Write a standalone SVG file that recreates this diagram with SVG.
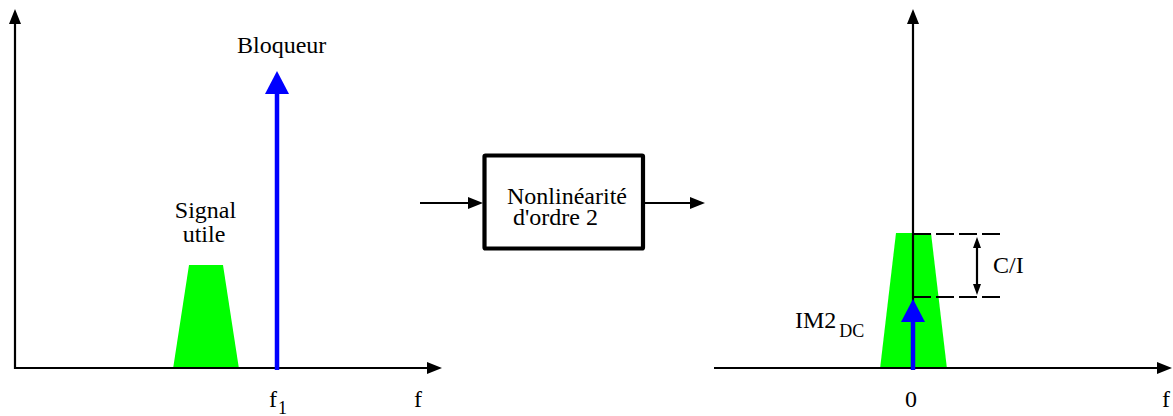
<svg xmlns="http://www.w3.org/2000/svg" width="1173" height="416" viewBox="0 0 1173 416">
<style>
text{font-family:"Liberation Serif","Times New Roman",serif;font-size:24px;fill:#000}
.ax{stroke:#000;stroke-width:2.2;fill:none}
.blue{stroke:#0000ff;stroke-width:4.5;fill:none}
.green{fill:#00ff00;stroke:none}
.dash{stroke:#000;stroke-width:2.2;stroke-dasharray:18 5;fill:none}
.box{fill:#fff;stroke:#000;stroke-width:4.2}
</style>
<defs>
<marker id="ah" markerUnits="userSpaceOnUse" markerWidth="15" markerHeight="12" refX="1" refY="6" orient="auto" overflow="visible">
<path d="M0,0 L15,6 L0,12 z" fill="#000"/>
</marker>
<marker id="ahs" markerUnits="userSpaceOnUse" markerWidth="11" markerHeight="8" refX="1" refY="4" orient="auto-start-reverse" overflow="visible">
<path d="M0,0 L11,4 L0,8 z" fill="#000"/>
</marker>
<marker id="bh" markerUnits="userSpaceOnUse" markerWidth="23" markerHeight="24" refX="1" refY="12" orient="auto" overflow="visible">
<path d="M0,0 L23,12 L0,24 z" fill="#0000ff"/>
</marker>
</defs>
<g id="left-plot">
<polygon class="green" points="173,369 189,265 223,265 239,369"/>
<line class="ax" x1="15" y1="369" x2="15" y2="23" marker-end="url(#ah)"/>
<line class="ax" x1="14" y1="368" x2="428" y2="368" marker-end="url(#ah)"/>
<line class="blue" x1="277" y1="370" x2="277" y2="93" marker-end="url(#bh)"/>
<text x="237" y="53">Bloqueur</text>
<text x="205.5" y="218" text-anchor="middle">Signal</text>
<text x="204" y="242" text-anchor="middle">utile</text>
<text x="269" y="407">f<tspan font-size="18" dx="1" dy="7">1</tspan></text>
<text x="414" y="407">f</text>
</g>
<g id="block">
<rect class="box" x="484.5" y="155.5" width="158.5" height="93" rx="1"/>
<text x="507" y="204">Nonlinéarité</text>
<text x="513" y="225">d'ordre 2</text>
</g>
<g id="right-plot">
<polygon class="green" points="880,369 896,233 931,233 947,369"/>
<line class="ax" x1="913" y1="369" x2="913" y2="23" marker-end="url(#ah)"/>
<line class="ax" x1="714" y1="368" x2="1158" y2="368" marker-end="url(#ah)"/>
<line class="dash" x1="913" y1="234" x2="1002" y2="234"/>
<line class="dash" x1="913" y1="297" x2="1002" y2="297"/>
<line class="blue" x1="913" y1="370" x2="913" y2="321" marker-end="url(#bh)"/>
<text x="993" y="273">C/I</text>
<text x="795" y="328">IM2<tspan font-size="18" dx="3" dy="9">DC</tspan></text>
<text x="905" y="407">0</text>
<text x="1162" y="407">f</text>
</g>
<g id="connectors">
<line class="ax" x1="420" y1="203" x2="469" y2="203" marker-end="url(#ah)"/>
<line class="ax" x1="645" y1="203" x2="691" y2="203" marker-end="url(#ah)"/>
<line class="ax" x1="977" y1="247" x2="977" y2="285" marker-start="url(#ahs)" marker-end="url(#ahs)"/>
</g>
</svg>
